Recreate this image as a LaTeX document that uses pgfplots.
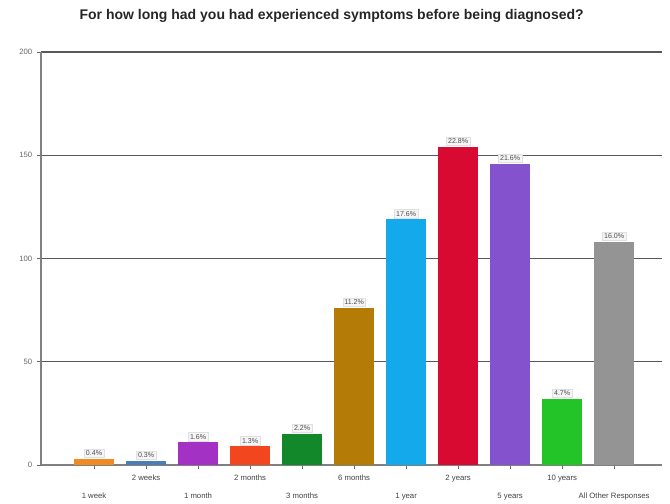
\documentclass[border=0pt]{standalone}
\usepackage{pgfplots}
\pgfplotsset{compat=1.18}
\usepackage{fontspec}
\setmainfont{Liberation Sans}
\definecolor{c1}{HTML}{F08A24}
\definecolor{c2}{HTML}{4C7DB4}
\definecolor{c3}{HTML}{A332C4}
\definecolor{c4}{HTML}{F2461E}
\definecolor{c5}{HTML}{13882A}
\definecolor{c6}{HTML}{B47C06}
\definecolor{c7}{HTML}{14A9EA}
\definecolor{c8}{HTML}{D80A32}
\definecolor{c9}{HTML}{8452CC}
\definecolor{c10}{HTML}{22C428}
\definecolor{c11}{HTML}{949494}
\begin{document}
\begin{tikzpicture}
\begin{axis}[
  scale only axis,
  width=465.75pt, height=309.75pt,
  xmin=-1.02, xmax=10.92,
  ymin=0, ymax=200,
  ytick={0,50,100,150,200},
  xtick={0,1,2,3,4,5,6,7,8,9,10},
  xticklabels={{\strut\\\strut 1 week},{\strut 2 weeks},{\strut\\\strut 1 month},{\strut 2 months},{\strut\\\strut 3 months},{\strut 6 months},{\strut\\\strut 1 year},{\strut 2 years},{\strut\\\strut 5 years},{\strut 10 years},{\strut\\\strut All Other Responses}},
  xticklabel style={align=center, font=\fontsize{5.8}{13.5}\selectfont, text=black!75, inner sep=0pt, yshift=1pt},
  yticklabel style={font=\fontsize{5.8}{6}\selectfont, text=black!60},
  axis x line*=bottom,
  axis y line*=left,
  axis line style={black!50, line width=0.8pt, -},
  tick style={black!60, line width=0.6pt},
  tick align=outside,
  major tick length=3pt,
  ymajorgrids,
  grid style={black!65, line width=0.8pt},
  /pgf/number format/assume math mode=true,
  bar width=30pt,
  ybar, bar shift=0pt,
  nodes near coords,
  point meta=explicit symbolic,
  every node near coord/.append style={font=\fontsize{5.3}{6}\selectfont, text=black!70, fill=black!4, draw=black!12, line width=0.3pt, inner sep=1.2pt, anchor=south, yshift=1pt},
]
\addplot[fill=c1, draw=none] coordinates {(0,3) [0.4\%]};
\addplot[fill=c2, draw=none] coordinates {(1,2) [0.3\%]};
\addplot[fill=c3, draw=none] coordinates {(2,11) [1.6\%]};
\addplot[fill=c4, draw=none] coordinates {(3,9) [1.3\%]};
\addplot[fill=c5, draw=none] coordinates {(4,15) [2.2\%]};
\addplot[fill=c6, draw=none] coordinates {(5,76) [11.2\%]};
\addplot[fill=c7, draw=none] coordinates {(6,119) [17.6\%]};
\addplot[fill=c8, draw=none] coordinates {(7,154) [22.8\%]};
\addplot[fill=c9, draw=none] coordinates {(8,146) [21.6\%]};
\addplot[fill=c10, draw=none] coordinates {(9,32) [4.7\%]};
\addplot[fill=c11, draw=none] coordinates {(10,108) [16.0\%]};
\end{axis}
\node[font=\fontsize{10.5}{11}\selectfont\bfseries, text=black!85] at (218pt,336.5pt) {For how long had you had experienced symptoms before being diagnosed?};
\path[use as bounding box] (-30.75pt,-27.75pt) rectangle (471.75pt,348.75pt);
\end{tikzpicture}
\end{document}
